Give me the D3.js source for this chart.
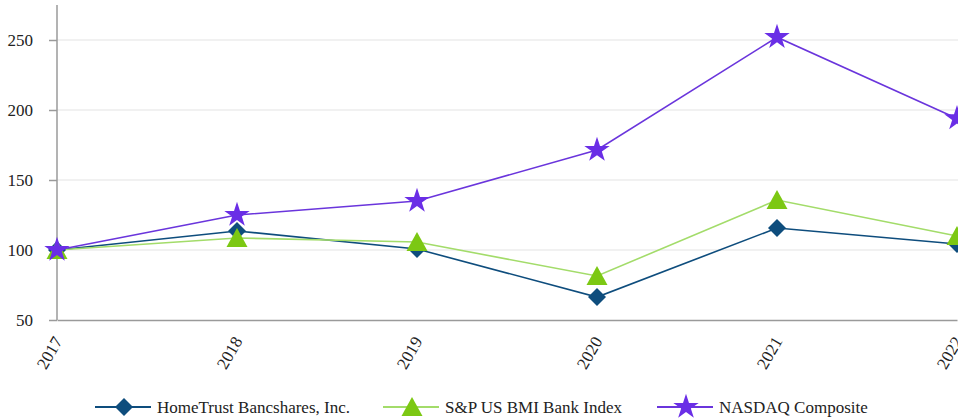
<!DOCTYPE html>
<html><head><meta charset="utf-8">
<script src="https://cdn.jsdelivr.net/npm/d3@7"></script>
<style>body{margin:0;background:#fff;}</style>
</head><body><svg id="c" width="958" height="420" font-family="Liberation Serif, serif"></svg>
<script>
const years = ["2017","2018","2019","2020","2021","2022"];
const homeTrust = [100, 113.6, 100.7, 66.4, 115.7, 104.3];
const spBank = [100, 108.6, 105.7, 81.4, 135.7, 110];
const nasdaq = [100, 125, 135, 171.4, 252, 194];
const yTicks = [50, 100, 150, 200, 250];
const seriesNames = ["HomeTrust Bancshares, Inc.", "S&P US BMI Bank Index", "NASDAQ Composite"];

const series = [
  {name: seriesNames[0], values: homeTrust, line: "#0e4d7d", fill: "#0e4d7d", sym: "diamond"},
  {name: seriesNames[1], values: spBank, line: "#a3dc6a", fill: "#7cc813", sym: "triangle"},
  {name: seriesNames[2], values: nasdaq, line: "#6a35dc", fill: "#6a2ee6", sym: "star"}
];

const FONT = "Liberation Serif, serif";
const svg = d3.select("#c");
const x = d3.scalePoint().domain(years).range([57, 957]);
const y = d3.scaleLinear().domain([50, 275]).range([320, 5]);

svg.append("g").selectAll("line").data(yTicks.filter(t => t > 50)).join("line")
  .attr("x1", 57).attr("x2", 958).attr("y1", d => y(d)).attr("y2", d => y(d))
  .attr("stroke", "#e3e3e3").attr("stroke-width", 1);

const ya = svg.append("g").attr("transform", "translate(57,0)")
  .call(d3.axisLeft(y).tickValues(yTicks).tickSize(8).tickFormat("").tickSizeOuter(0));
ya.select(".domain").attr("stroke", "#9a9a9a").attr("stroke-width", 1.5).attr("d", `M0,${y(275)}V${y(50)}`);
ya.selectAll(".tick line").attr("stroke", "#9a9a9a").attr("stroke-width", 1.5);
ya.selectAll(".tick text").remove();
svg.append("g").selectAll("text").data(yTicks).join("text")
  .attr("x", 33).attr("y", d => y(d)).attr("dy", "0.34em")
  .attr("text-anchor", "end").attr("font-family", FONT).attr("font-size", 17).attr("fill", "#222")
  .text(d => d);

const xa = svg.append("g").attr("transform", "translate(0,320)")
  .call(d3.axisBottom(x).tickSize(0).tickFormat(""));
xa.select(".domain").attr("stroke", "#9a9a9a").attr("stroke-width", 1.5);
xa.selectAll(".tick text").remove();
svg.append("g").selectAll("text").data(years).join("text")
  .attr("text-anchor", "end").attr("font-family", FONT).attr("font-size", 17).attr("fill", "#222")
  .attr("transform", d => `translate(${x(d) + 6},${341}) rotate(-60)`)
  .text(d => d);

const diamondPath = r => `M0,${-r}L${r},0L0,${r}L${-r},0Z`;
const trianglePath = r => `M0,${-r}L${r*1.05},${r*0.9}L${-r*1.05},${r*0.9}Z`;
const starPath = d3.symbol().type(d3.symbolStar).size(200)();
function markPath(sym) {
  if (sym === "diamond") return diamondPath(9);
  if (sym === "triangle") return trianglePath(10);
  return starPath;
}

const line = d3.line().x((d, i) => x(years[i])).y(d => y(d));
series.forEach(s => {
  svg.append("path").datum(s.values).attr("d", line)
    .attr("fill", "none").attr("stroke", s.line).attr("stroke-width", 1.6);
});
series.forEach(s => {
  svg.append("g").selectAll("path").data(s.values).join("path")
    .attr("d", markPath(s.sym))
    .attr("transform", (d, i) => `translate(${x(years[i])},${y(d)})`)
    .attr("fill", s.fill);
});

const legX = [95, 383, 657];
const lg = svg.append("g");
series.forEach((s, i) => {
  const g = lg.append("g").attr("transform", `translate(${legX[i]},407)`);
  g.append("line").attr("x1", 0).attr("x2", 56).attr("stroke", s.line).attr("stroke-width", 2);
  g.append("path").attr("d", markPath(s.sym))
    .attr("transform", `translate(29,0)`).attr("fill", s.fill);
  g.append("text").attr("x", 62).attr("y", 5.5).attr("font-size", 17).attr("fill", "#222")
    .attr("font-family", FONT).text(s.name);
});
</script></body></html>
